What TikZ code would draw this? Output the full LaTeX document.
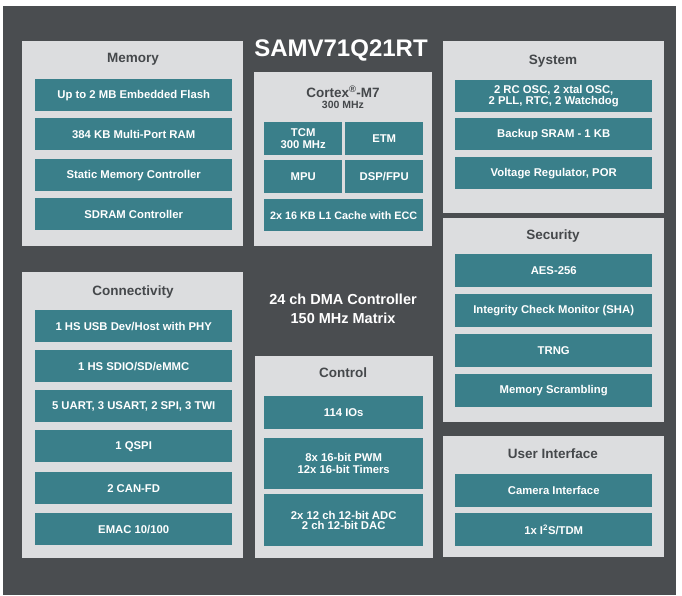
\documentclass[tikz,border=0pt]{standalone}
\usepackage{fontspec}
\setmainfont{Liberation Sans}
\begin{document}
\definecolor{bgdark}{HTML}{4A4D50}
\definecolor{panel}{HTML}{DCDDDF}
\definecolor{teal}{HTML}{3A7F8A}
\definecolor{ptext}{HTML}{45484B}
\begin{tikzpicture}[x=1pt,y=-1pt,
  panel/.style={fill=panel,draw=none,anchor=north west,inner sep=0},
  tb/.style={fill=teal,draw=none,anchor=north west,inner sep=0,text=white,font=\bfseries\fontsize{11.3}{12.5}\selectfont,align=center},
  ttl/.style={text=ptext,font=\bfseries\fontsize{13.5}{15}\selectfont,align=center},
  bw/.style={text=white,font=\bfseries\fontsize{14.5}{19}\selectfont,align=center}]
\useasboundingbox (0,0) rectangle (682,595);
\fill[white] (0,0) rectangle (682,595);
\node[fill=bgdark,anchor=north west,inner sep=0,minimum width=673,minimum height=589] (bg) at (3,6) {};
% panels
\node[panel,minimum width=221,minimum height=205] (mem) at (22,41) {};
\node[panel,minimum width=178,minimum height=174] (cpu) at (254,72) {};
\node[panel,minimum width=221,minimum height=172] (sys) at (443,41) {};
\node[panel,minimum width=221,minimum height=204] (sec) at (443,218) {};
\node[panel,minimum width=221,minimum height=121] (ui) at (443,436) {};
\node[panel,minimum width=221,minimum height=286] (con) at (22,272) {};
\node[panel,minimum width=178,minimum height=202] (ctl) at (255,356) {};
% titles
\node[text=white,font=\bfseries\fontsize{24}{28}\selectfont] (chip) at (341,50) {SAMV71Q21RT};
\node[ttl] (memt) at (133,59) {Memory};
\node[ttl,align=center] (cput) at (343,97) {Cortex\textsuperscript{®}-M7\\[-4pt]{\fontsize{10.5}{11}\selectfont 300 MHz}};
\node[ttl] (syst) at (553,61) {System};
\node[ttl] (sect) at (553,236) {Security};
\node[ttl] (uit) at (553,454) {User Interface};
\node[ttl] (cont) at (133,292) {Connectivity};
\node[ttl] (ctlt) at (343,373) {Control};
\node[bw] (dma) at (343,309) {24 ch DMA Controller\\150 MHz Matrix};
% memory
\node[tb,minimum width=197,minimum height=32] (m1) at (35,79) {Up to 2 MB Embedded Flash};
\node[tb,minimum width=197,minimum height=32] (m2) at (35,118) {384 KB Multi-Port RAM};
\node[tb,minimum width=197,minimum height=32] (m3) at (35,159) {Static Memory Controller};
\node[tb,minimum width=197,minimum height=32] (m4) at (35,198) {SDRAM Controller};
% cpu
\node[tb,minimum width=78,minimum height=33] (c1) at (264,122) {TCM\\[-1pt]300 MHz};
\node[tb,minimum width=78,minimum height=33] (c2) at (345,122) {ETM};
\node[tb,minimum width=78,minimum height=33] (c3) at (264,160) {MPU};
\node[tb,minimum width=78,minimum height=33] (c4) at (345,160) {DSP/FPU};
\node[tb,minimum width=159,minimum height=32,font=\bfseries\fontsize{10.8}{12}\selectfont] (c5) at (264,199) {2x 16 KB L1 Cache with ECC};
% system
\node[tb,minimum width=197,minimum height=32] (s1) at (455,80) {2 RC OSC, 2 xtal OSC,\\[-1pt]2 PLL, RTC, 2 Watchdog};
\node[tb,minimum width=197,minimum height=32] (s2) at (455,118) {Backup SRAM - 1 KB};
\node[tb,minimum width=197,minimum height=32] (s3) at (455,157) {Voltage Regulator, POR};
% security
\node[tb,minimum width=197,minimum height=33] (e1) at (455,254) {AES-256};
\node[tb,minimum width=197,minimum height=33] (e2) at (455,294) {Integrity Check Monitor (SHA)};
\node[tb,minimum width=197,minimum height=33] (e3) at (455,334) {TRNG};
\node[tb,minimum width=197,minimum height=33] (e4) at (455,374) {Memory Scrambling};
% ui
\node[tb,minimum width=197,minimum height=33] (u1) at (455,474) {Camera Interface};
\node[tb,minimum width=197,minimum height=33] (u2) at (455,513) {1x I\textsuperscript{2}S/TDM};
% connectivity
\node[tb,minimum width=197,minimum height=32] (k1) at (35,310) {1 HS USB Dev/Host with PHY};
\node[tb,minimum width=197,minimum height=32] (k2) at (35,350) {1 HS SDIO/SD/eMMC};
\node[tb,minimum width=197,minimum height=32] (k3) at (35,390) {5 UART, 3 USART, 2 SPI, 3 TWI};
\node[tb,minimum width=197,minimum height=32] (k4) at (35,430) {1 QSPI};
\node[tb,minimum width=197,minimum height=32] (k5) at (35,472) {2 CAN-FD};
\node[tb,minimum width=197,minimum height=32] (k6) at (35,513) {EMAC 10/100};
% control
\node[tb,minimum width=159,minimum height=33] (t1) at (264,396) {114 IOs};
\node[tb,minimum width=159,minimum height=51] (t2) at (264,438) {8x 16-bit PWM\\12x 16-bit Timers};
\node[tb,minimum width=159,minimum height=52] (t3) at (264,494) {2x 12 ch 12-bit ADC\\[-2pt]2 ch 12-bit DAC};
\end{tikzpicture}
\end{document}
